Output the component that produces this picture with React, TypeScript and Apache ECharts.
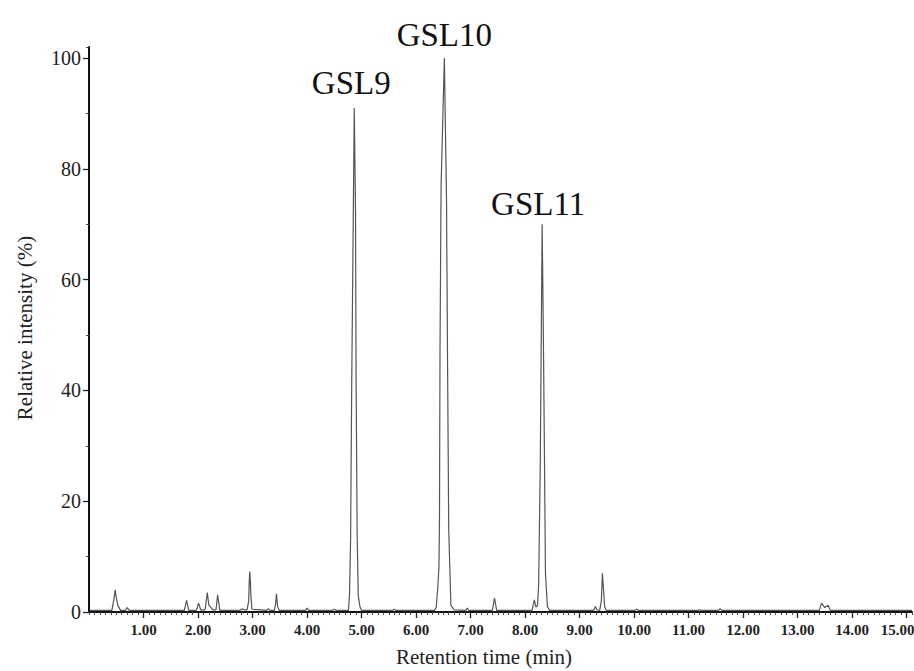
import React, { useEffect, useRef } from 'react';
import * as echarts from 'echarts';

// Chromatogram trace (retention time in min, relative intensity in %)
const retentionTime = [
  0.02, 0.42, 0.46, 0.48, 0.50, 0.53, 0.58, 0.67, 0.70, 0.74,
  1.75, 1.79, 1.83, 1.97, 2.01, 2.05, 2.13, 2.17, 2.20, 2.24,
  2.27, 2.33, 2.36, 2.40, 2.77, 2.81, 2.85, 2.90, 2.93, 2.94,
  2.95, 2.96, 2.97, 2.99, 3.26, 3.29, 3.32, 3.40, 3.42, 3.44,
  3.46, 3.49, 3.97, 4.00, 4.03, 4.47, 4.50, 4.53, 4.76, 4.78,
  4.80, 4.82, 4.84, 4.867, 4.89, 4.90, 4.92, 4.94, 4.97, 5.00,
  5.57, 5.60, 5.63, 6.34, 6.37, 6.40, 6.42, 6.43, 6.44, 6.46,
  6.52, 6.56, 6.58, 6.60, 6.64, 6.70, 6.91, 6.94, 6.97, 7.40,
  7.44, 7.48, 8.13, 8.17, 8.20, 8.23, 8.25, 8.28, 8.314, 8.33,
  8.343, 8.375, 8.41, 8.45, 9.26, 9.29, 9.32, 9.37, 9.40, 9.42,
  9.44, 9.46, 9.49, 10.02, 10.05, 10.08, 11.17, 11.20, 11.23, 11.55,
  11.58, 11.61, 13.40, 13.44, 13.50, 13.56, 13.60, 15.10,
];
const relativeIntensity = [
  0.3, 0.3, 2.5, 4.0, 2.6, 1.2, 0.3, 0.3, 0.8, 0.3,
  0.3, 2.1, 0.3, 0.3, 1.6, 0.4, 0.4, 3.5, 1.2, 0.8,
  0.4, 0.4, 3.1, 0.3, 0.3, 0.6, 0.4, 0.4, 2.0, 5.5,
  7.3, 5.6, 3.0, 0.5, 0.3, 0.6, 0.3, 0.3, 1.2, 3.3,
  1.0, 0.3, 0.3, 0.7, 0.3, 0.3, 0.5, 0.3, 0.3, 3.0,
  13.5, 41, 62, 91, 72, 43, 14, 3, 1.0, 0.3,
  0.3, 0.5, 0.3, 0.3, 0.8, 4.5, 8, 16, 47, 77,
  100, 74, 43, 15, 1.2, 0.4, 0.3, 0.7, 0.3, 0.3,
  2.5, 0.3, 0.3, 2.2, 0.9, 1.2, 5, 27, 70, 56,
  43, 7, 1.0, 0.3, 0.3, 1.0, 0.4, 0.3, 2.0, 7.0,
  4.0, 1.0, 0.3, 0.3, 0.5, 0.3, 0.3, 0.4, 0.3, 0.3,
  0.6, 0.3, 0.3, 1.6, 0.8, 1.2, 0.3, 0.3,
];

const peakNames = ['GSL9', 'GSL10', 'GSL11'];
const peakTimes = [4.867, 6.52, 8.314];
const peakHeights = [91, 100, 70];

const xAxisTitle = 'Retention time (min)';
const yAxisTitle = 'Relative intensity (%)';

const FONT = '"Liberation Serif", "Times New Roman", serif';

export default function App() {
  const ref = useRef<HTMLDivElement>(null);

  useEffect(() => {
    document.body.style.margin = '0';
    const chart = echarts.init(ref.current as HTMLDivElement, null, { renderer: 'svg' });
    const data = retentionTime.map((t, i) => [t, relativeIntensity[i]]);
    const labelDistance = [8, 6, 3];
    const labelOffset = [[-3, 0], [0, 0], [-4, 0]];

    chart.setOption({
      animation: false,
      backgroundColor: '#ffffff',
      grid: { left: 89, right: 2, top: 47, bottom: 59, containLabel: false, outerBoundsMode: 'none' },
      xAxis: [
        {
          type: 'value',
          min: 0,
          max: 15.1,
          interval: 0.1,
          position: 'bottom',
          axisLine: { show: true, onZero: false, lineStyle: { color: '#111', width: 2 } },
          axisTick: { show: true, length: 3, lineStyle: { color: '#444', width: 1 } },
          axisLabel: { show: false },
          splitLine: { show: false },
        },
        {
          type: 'value',
          min: 0,
          max: 15.1,
          interval: 1,
          position: 'bottom',
          axisLine: { show: false, onZero: false },
          axisTick: { show: true, length: 6, lineStyle: { color: '#222', width: 1.3 } },
          axisLabel: {
            show: true,
            showMinLabel: false,
            showMaxLabel: false,
            margin: 10,
            fontSize: 15,
            fontWeight: 'bold',
            fontFamily: FONT,
            color: '#222',
            formatter: (v: number) => (Math.abs(v - 15) < 1e-6 ? '{e|' + v.toFixed(2) + '}' : v.toFixed(2)),
            rich: {
              e: {
                padding: [0, 18, 0, 0],
                fontSize: 15,
                fontWeight: 'bold',
                fontFamily: FONT,
                color: '#222',
              },
            },
          },
          splitLine: { show: false },
        },
      ],
      yAxis: [
        {
          type: 'value',
          min: 0,
          max: 102,
          interval: 10,
          position: 'left',
          axisLine: { show: true, onZero: false, lineStyle: { color: '#111', width: 2 } },
          axisTick: { show: true, length: 3, lineStyle: { color: '#444', width: 1 } },
          axisLabel: { show: false },
          splitLine: { show: false },
        },
        {
          type: 'value',
          min: 0,
          max: 102,
          interval: 20,
          position: 'left',
          axisLine: { show: false, onZero: false },
          axisTick: { show: true, length: 6, lineStyle: { color: '#222', width: 1.3 } },
          axisLabel: {
            show: true,
            showMaxLabel: false,
            margin: 8,
            fontSize: 20,
            fontFamily: FONT,
            color: '#222',
          },
          splitLine: { show: false },
        },
      ],
      series: [
        {
          type: 'line',
          xAxisIndex: 0,
          yAxisIndex: 0,
          data,
          symbol: 'none',
          showSymbol: false,
          lineStyle: { color: '#555', width: 1.2 },
          markPoint: {
            symbol: 'circle',
            symbolSize: 1,
            itemStyle: { color: 'rgba(0,0,0,0)' },
            label: { fontSize: 33, fontFamily: FONT, color: '#111' },
            data: peakNames.map((n, i) => ({
              name: n,
              coord: [peakTimes[i], peakHeights[i]],
              label: {
                show: true,
                formatter: n,
                position: 'top',
                distance: labelDistance[i],
                offset: labelOffset[i],
                fontSize: 33,
                fontFamily: FONT,
                color: '#111',
              },
            })),
          },
        },
      ],
      graphic: [
        {
          type: 'text',
          x: 484,
          y: 657,
          style: {
            text: xAxisTitle,
            textAlign: 'center',
            textVerticalAlign: 'middle',
            fontSize: 21,
            fontFamily: FONT,
            fill: '#222',
          },
        },
        {
          type: 'text',
          x: 25,
          y: 328,
          rotation: Math.PI / 2,
          style: {
            text: yAxisTitle,
            textAlign: 'center',
            textVerticalAlign: 'middle',
            fontSize: 21,
            fontFamily: FONT,
            fill: '#222',
          },
        },
      ],
    });

    return () => chart.dispose();
  }, []);

  return <div ref={ref} style={{ width: 914, height: 671 }} />;
}
